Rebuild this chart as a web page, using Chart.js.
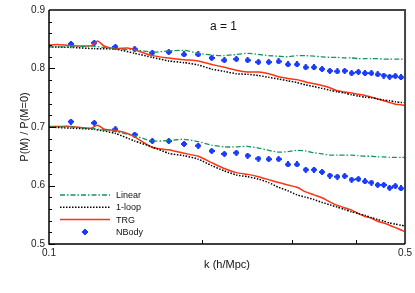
<!DOCTYPE html>
<html>
<head>
<meta charset="utf-8">
<script src="https://cdn.jsdelivr.net/npm/chart.js@4.4.1/dist/chart.umd.min.js"></script>
<style>
  html, body { margin: 0; padding: 0; background: #fff; }
  #wrap { width: 415px; height: 293px; }
</style>
</head>
<body>
<div id="wrap"><canvas id="chart" width="415" height="293"></canvas></div>
<script>
// k bins of the N-body points (h/Mpc)
const kNbody = [0.1104, 0.1227, 0.1350, 0.1473, 0.1595, 0.1718, 0.1841, 0.1963, 0.2086, 0.2209, 0.2332,
  0.2454, 0.2577, 0.2700, 0.2823, 0.2945, 0.3068, 0.3191, 0.3313, 0.3436, 0.3559, 0.3682, 0.3804,
  0.3927, 0.4050, 0.4172, 0.4295, 0.4418, 0.4541, 0.4663, 0.4786, 0.4909];
// k samples of the Linear / 1-loop curves
const kLine = [0.1, 0.1104, 0.1227, 0.1350, 0.1473, 0.1595, 0.1718, 0.1841, 0.1963, 0.2086, 0.2209,
  0.2332, 0.2454, 0.2577, 0.2700, 0.2823, 0.2945, 0.3068, 0.3191, 0.3313, 0.3436, 0.3559, 0.3682,
  0.3804, 0.3927, 0.4050, 0.4172, 0.4295, 0.4418, 0.4541, 0.4663, 0.4786, 0.4909, 0.5];
// k samples of the TRG curves (extra points around the bump)
const kTrg = [0.1, 0.1037, 0.1104, 0.1211, 0.1245, 0.1285, 0.1350, 0.1425, 0.1473, 0.1595, 0.1718,
  0.1841, 0.1963, 0.2086, 0.2209, 0.2332, 0.2454, 0.2577, 0.2700, 0.2823, 0.2945, 0.3068, 0.3191,
  0.3313, 0.3436, 0.3559, 0.3682, 0.3804, 0.3927, 0.4050, 0.4172, 0.4295, 0.4418, 0.4541, 0.4663,
  0.4786, 0.4909, 0.5];

// upper family
const linearUp = [0.837, 0.837, 0.838, 0.833, 0.832, 0.828, 0.830, 0.831, 0.826, 0.823, 0.822, 0.824,
  0.826, 0.824, 0.822, 0.821, 0.820, 0.822, 0.822, 0.821, 0.820, 0.819, 0.819, 0.818, 0.818, 0.817,
  0.817, 0.817, 0.817, 0.816, 0.816, 0.816, 0.816, 0.816];
const oneLoopUp = [0.837, 0.836, 0.834, 0.833, 0.826, 0.819, 0.813, 0.810, 0.806, 0.799, 0.795, 0.791,
  0.790, 0.788, 0.785, 0.782, 0.779, 0.776, 0.772, 0.769, 0.766, 0.763, 0.760, 0.758, 0.755, 0.753,
  0.751, 0.750, 0.748, 0.746, 0.745, 0.743, 0.742, 0.742];
const trgUp = [0.840, 0.841, 0.839, 0.839, 0.847, 0.838, 0.834, 0.835, 0.832, 0.822, 0.818, 0.815,
  0.813, 0.807, 0.802, 0.797, 0.794, 0.794, 0.791, 0.786, 0.783, 0.781, 0.777, 0.774, 0.771, 0.767,
  0.762, 0.760, 0.758, 0.756, 0.754, 0.751, 0.748, 0.745, 0.742, 0.739, 0.738, 0.737];
const nbodyUp = [0.842, 0.844, 0.837, 0.833, 0.827, 0.828, 0.824, 0.824, 0.818, 0.814, 0.816, 0.814,
  0.811, 0.811, 0.812, 0.807, 0.807, 0.802, 0.802, 0.799, 0.796, 0.795, 0.796, 0.792, 0.794, 0.792,
  0.792, 0.790, 0.788, 0.786, 0.787, 0.785];

// lower family
const linearLo = [0.700, 0.700, 0.697, 0.692, 0.685, 0.676, 0.677, 0.679, 0.675, 0.669, 0.666, 0.666,
  0.667, 0.664, 0.660, 0.657, 0.658, 0.660, 0.659, 0.656, 0.654, 0.652, 0.652, 0.652, 0.652, 0.651,
  0.650, 0.650, 0.649, 0.649, 0.648, 0.648, 0.648, 0.648];
const oneLoopLo = [0.700, 0.698, 0.696, 0.689, 0.676, 0.666, 0.655, 0.651, 0.645, 0.634, 0.625, 0.618,
  0.615, 0.611, 0.605, 0.597, 0.591, 0.584, 0.580, 0.576, 0.571, 0.567, 0.563, 0.559, 0.555, 0.552,
  0.549, 0.545, 0.542, 0.539, 0.536, 0.534, 0.532, 0.531];
const trgLo = [0.701, 0.701, 0.701, 0.698, 0.703, 0.696, 0.694, 0.689, 0.683, 0.665, 0.661, 0.655,
  0.650, 0.639, 0.629, 0.622, 0.619, 0.615, 0.610, 0.605, 0.601, 0.597, 0.589, 0.584, 0.579, 0.572,
  0.566, 0.562, 0.558, 0.552, 0.547, 0.544, 0.539, 0.536, 0.532, 0.528, 0.524, 0.521];
const nbodyLo = [0.709, 0.707, 0.696, 0.687, 0.676, 0.676, 0.671, 0.668, 0.659, 0.654, 0.656, 0.651,
  0.646, 0.645, 0.645, 0.636, 0.636, 0.627, 0.627, 0.623, 0.617, 0.615, 0.616, 0.610, 0.611, 0.607,
  0.605, 0.601, 0.601, 0.596, 0.599, 0.595];

// axes
const kTicks = [0.1, 0.2, 0.3, 0.4, 0.5];
const kTickLabels = ['0.1', '', '', '', '0.5'];
const yMin = 0.5, yMax = 0.9;
const yTitle = 'P(M) / P(M=0)';

const FONT = '"Liberation Sans", Arial, Helvetica, sans-serif';
const GREEN = '#17945a';
const RED = '#ff3414';
const BLUE = '#1a3cff';

// fat plus marker like the original
function makeMarker() {
  const c = document.createElement('canvas');
  c.width = 6; c.height = 6;
  const g = c.getContext('2d');
  g.fillStyle = BLUE;
  g.fillRect(2, 0, 2, 6);
  g.fillRect(0, 2, 6, 2);
  g.fillRect(1, 1, 4, 4);
  return c;
}
const marker = makeMarker();

const pts = (xs, ys) => ys.map((v, i) => ({ x: xs[i], y: v }));

const styles = {
  linear: { borderColor: GREEN, borderWidth: 1.3, borderDash: [5, 2, 1.5, 2] },
  oneLoop: { borderColor: '#000', borderWidth: 1.5, borderDash: [1.5, 1.5] },
  trg: { borderColor: RED, borderWidth: 1.5, borderDash: [] }
};

function lineSet(label, xs, ys, st) {
  return Object.assign({ label, data: pts(xs, ys), pointRadius: 0, fill: false, tension: 0.2 }, st);
}

const datasets = [
  lineSet('Linear', kLine, linearUp, styles.linear),
  lineSet('Linear', kLine, linearLo, styles.linear),
  lineSet('1-loop', kLine, oneLoopUp, styles.oneLoop),
  lineSet('1-loop', kLine, oneLoopLo, styles.oneLoop),
  lineSet('TRG', kTrg, trgUp, styles.trg),
  lineSet('TRG', kTrg, trgLo, styles.trg),
  { label: 'NBody', data: pts(kNbody, nbodyUp), showLine: false, pointStyle: marker },
  { label: 'NBody', data: pts(kNbody, nbodyLo), showLine: false, pointStyle: marker }
];

const legendRows = [
  { text: 'Linear', line: styles.linear },
  { text: '1-loop', line: styles.oneLoop },
  { text: 'TRG', line: styles.trg },
  { text: 'NBody', point: true }
];

const framePlugin = {
  id: 'frame',
  afterDraw(chart) {
    const { ctx, chartArea: a, scales: { x, y } } = chart;
    ctx.save();

    // inward ticks on the left axis (minor every 0.02)
    ctx.strokeStyle = '#000';
    ctx.lineWidth = 1;
    for (let i = 0; i <= 20; i++) {
      const py = Math.round(y.getPixelForValue(yMin + i * 0.02)) + 0.5;
      const len = i % 5 === 0 ? 6 : 3;
      ctx.beginPath(); ctx.moveTo(a.left, py); ctx.lineTo(a.left + len, py); ctx.stroke();
    }
    // inward ticks on the bottom axis
    kTicks.slice(1, -1).forEach(v => {
      const px = Math.round(x.getPixelForValue(v)) + 0.5;
      ctx.beginPath(); ctx.moveTo(px, a.bottom); ctx.lineTo(px, a.bottom - 4); ctx.stroke();
    });

    // frame
    ctx.strokeStyle = '#444';
    ctx.lineWidth = 2;
    ctx.beginPath();
    ctx.moveTo(a.left, a.top); ctx.lineTo(a.right, a.top); ctx.lineTo(a.right, a.bottom);
    ctx.stroke();
    ctx.strokeStyle = '#000';
    ctx.lineWidth = 1.5;
    ctx.beginPath();
    ctx.moveTo(a.left, a.top); ctx.lineTo(a.left, a.bottom); ctx.lineTo(a.right, a.bottom);
    ctx.stroke();

    // y axis title, rotated
    ctx.fillStyle = '#111';
    ctx.font = '11px ' + FONT;
    ctx.textAlign = 'center';
    ctx.textBaseline = 'middle';
    ctx.save();
    ctx.translate(a.left - 24, (a.top + a.bottom) / 2);
    ctx.rotate(-Math.PI / 2);
    ctx.fillText(yTitle, 0, 0);
    ctx.restore();

    // "a = 1"
    ctx.font = '12px ' + FONT;
    ctx.fillText('a = 1', x.getPixelForValue(0.22), y.getPixelForValue(0.872));

    // legend
    ctx.font = '9px ' + FONT;
    ctx.textAlign = 'left';
    legendRows.forEach((r, i) => {
      const ry = a.bottom - 49 + i * 12.3;
      const x0 = a.left + 11, x1 = a.left + 61;
      if (r.line) {
        ctx.strokeStyle = r.line.borderColor;
        ctx.lineWidth = r.line.borderWidth;
        ctx.setLineDash(r.line.borderDash);
        ctx.beginPath(); ctx.moveTo(x0, ry); ctx.lineTo(x1, ry); ctx.stroke();
        ctx.setLineDash([]);
      } else {
        ctx.drawImage(marker, Math.round((x0 + x1) / 2) - 3, Math.round(ry) - 3);
      }
      ctx.fillStyle = '#111';
      ctx.fillText(r.text, a.left + 67, ry + 0.5);
    });
    ctx.restore();
  }
};

new Chart(document.getElementById('chart'), {
  type: 'line',
  data: { datasets },
  options: {
    responsive: false,
    animation: false,
    devicePixelRatio: 1,
    layout: { padding: { left: 0, right: 7, top: 6, bottom: 0 } },
    plugins: { legend: { display: false }, tooltip: { enabled: false } },
    scales: {
      x: {
        type: 'logarithmic',
        min: 0.1,
        max: 0.5,
        grid: { display: false, drawTicks: false },
        border: { display: false },
        afterBuildTicks: s => { s.ticks = kTicks.map(v => ({ value: v })); },
        afterFit: s => { s.height = 49; },
        ticks: {
          autoSkip: false,
          maxRotation: 0,
          padding: 3,
          color: '#222',
          font: { family: FONT, size: 10 },
          callback: (v, i) => kTickLabels[i]
        },
        title: {
          display: true,
          text: 'k (h/Mpc)',
          color: '#111',
          font: { family: FONT, size: 11 },
          padding: { top: 0, bottom: 21 }
        }
      },
      y: {
        type: 'linear',
        min: yMin,
        max: yMax,
        grid: { display: false, drawTicks: false },
        border: { display: false },
        afterFit: s => { s.width = 49; },
        ticks: {
          stepSize: 0.1,
          padding: 4,
          color: '#222',
          font: { family: FONT, size: 10 },
          callback: v => Number(v).toFixed(1)
        }
      }
    }
  },
  plugins: [framePlugin]
});
</script>
</body>
</html>
